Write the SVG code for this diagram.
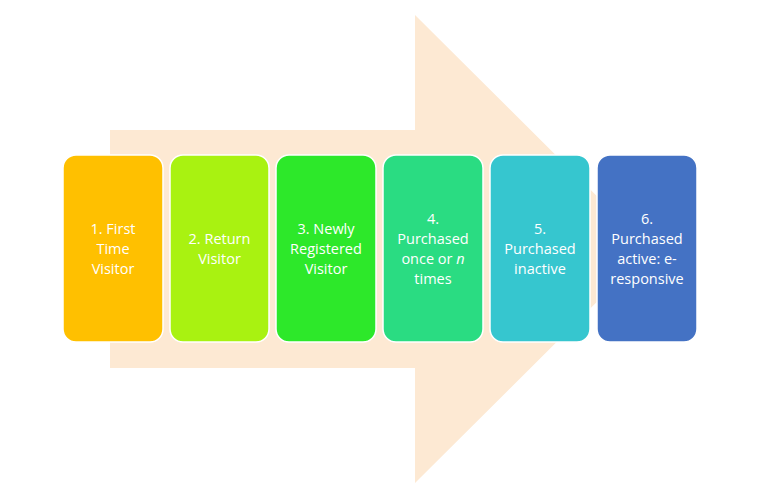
<svg xmlns="http://www.w3.org/2000/svg" width="768" height="500" viewBox="0 0 768 500">
<style>
.box{stroke:#fff;stroke-width:1.5}
.t{font-family:"Open Sans","Liberation Sans",sans-serif;font-size:14.5px;fill:#fff;text-anchor:middle}
</style>
<rect width="768" height="500" fill="#fff"/>
<g id="arrow"><polygon points="110,130 415,130 415,15 650,249 415,483 415,368 110,368" fill="#FDE9D3"/></g>
<g id="n1"><rect class="box" x="63" y="155" width="100" height="187" rx="13" fill="#FFC000"/>
<text class="t" x="113" y="234">1. First</text><text class="t" x="113" y="254">Time</text><text class="t" x="113" y="274">Visitor</text></g>
<g id="n2"><rect class="box" x="170" y="155" width="99" height="187" rx="13" fill="#A9F211"/>
<text class="t" x="219.5" y="244">2. Return</text><text class="t" x="219.5" y="264">Visitor</text></g>
<g id="n3"><rect class="box" x="276" y="155" width="100" height="187" rx="13" fill="#2DE82A"/>
<text class="t" x="326" y="234">3. Newly</text><text class="t" x="326" y="254">Registered</text><text class="t" x="326" y="274">Visitor</text></g>
<g id="n4"><rect class="box" x="383" y="155" width="100" height="187" rx="13" fill="#2ADC82"/>
<text class="t" x="433" y="224">4.</text><text class="t" x="433" y="244">Purchased</text><text class="t" x="433" y="264">once or <tspan font-style="italic">n</tspan></text><text class="t" x="433" y="284">times</text></g>
<g id="n5"><rect class="box" x="490" y="155" width="100" height="187" rx="13" fill="#36C6CF"/>
<text class="t" x="540" y="234">5.</text><text class="t" x="540" y="254">Purchased</text><text class="t" x="540" y="274">inactive</text></g>
<g id="n6"><rect class="box" x="597" y="155" width="100" height="187" rx="13" fill="#4472C4"/>
<text class="t" x="647" y="224">6.</text><text class="t" x="647" y="244">Purchased</text><text class="t" x="647" y="264">active: e-</text><text class="t" x="647" y="284">responsive</text></g>
<g id="connectors"/>
</svg>
